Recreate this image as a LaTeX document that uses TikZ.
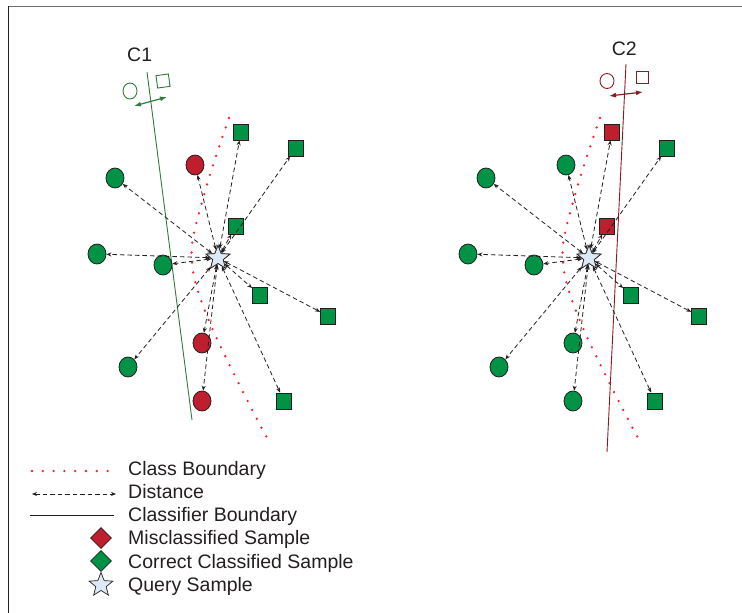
\documentclass[tikz,border=0pt]{standalone}
\usepackage{fontspec}
\setmainfont{Liberation Sans}
\usetikzlibrary{shapes.geometric,arrows.meta}

\definecolor{okgreen}{HTML}{009245}
\definecolor{badred}{HTML}{BE1E2D}
\definecolor{qblue}{HTML}{DCEAF7}
\definecolor{cOneline}{HTML}{2E7D3A}
\definecolor{cTwoline}{HTML}{8B1A1F}
\definecolor{inkgray}{HTML}{231F20}
\definecolor{dotred}{HTML}{FF1F2A}
\definecolor{framegray}{HTML}{6D6E70}

\tikzset{
  sample/.style={draw=inkgray, line width=0.8pt, inner sep=0pt},
  circ/.style={sample, ellipse, minimum width=18pt, minimum height=20pt},
  sq/.style={sample, rectangle, minimum width=15pt, minimum height=16pt},
  good/.style={fill=okgreen},
  bad/.style={fill=badred},
  query/.style={draw=inkgray, fill=qblue, star, star points=5,
    star point ratio=2.3, minimum size=25pt, inner sep=0pt, line width=0.7pt},
  dist/.style={inkgray, line width=0.8pt, dash pattern=on 4.5pt off 3pt,
    {Stealth[length=5pt,width=4pt]}-{Stealth[length=5pt,width=4pt]}},
  classbound/.style={dotred, line width=2.6pt, line cap=round,
    dash pattern=on 0pt off 10pt},
  clfline/.style={line width=0.9pt},
  sidearrow/.style={line width=1.2pt,
    {Latex[length=7pt,width=5pt]}-{Latex[length=7pt,width=5pt]}},
  txt/.style={text=inkgray, anchor=base west, inner sep=0pt,
    font=\fontsize{19.5}{21}\selectfont},
  legdiamond/.style={sample, diamond, aspect=1, minimum width=21pt, minimum height=21pt},
}

\begin{document}
\begin{tikzpicture}[x=1pt,y=-1pt]
\useasboundingbox (0,0) rectangle (742,613);

% frame
\draw[framegray, line width=1.5pt] (8,6.5) -- (742,6.5);
\draw[inkgray, line width=1pt] (8,6) -- (8,613);

% ---------------- classifier C1 ----------------
\node[txt] (c1lab) at (127,61.7) {C1};
\coordinate (c1top) at (147,72);
\coordinate (c1bot) at (192,420);
\draw[cOneline, clfline] (c1top) -- (c1bot);
\node[draw=cOneline, ellipse, line width=0.9pt, minimum width=14pt, minimum height=16pt, inner sep=0pt] (c1o) at (130,91) {};
\node[draw=cOneline, rectangle, line width=0.9pt, minimum size=12.5pt, inner sep=0pt, rotate=8] (c1s) at (163,81) {};
\coordinate (c1al) at (134,106);
\coordinate (c1ar) at (167,97);
\draw[cOneline, sidearrow] (c1al) -- (c1ar);

\draw[classbound] plot[smooth, tension=0.6] coordinates
  {(229,118) (217,153) (204,195) (193,238) (192,262) (197,288) (212,328) (236,378) (260,425) (269,441)};

% samples around the query
\node[circ, good] (a1) at (115,178) {};
\node[circ, good] (a2) at (97,254) {};
\node[circ, good] (a3) at (163,265) {};
\node[circ, good] (a4) at (128,367) {};
\node[circ, bad]  (a5) at (195,165) {};
\node[circ, bad]  (a6) at (202,343) {};
\node[circ, bad]  (a7) at (202,401) {};
\node[sq, good] (a8)  at (241,132) {};
\node[sq, good] (a9)  at (296,148) {};
\node[sq, good] (a10) at (236,226) {};
\node[sq, good] (a11) at (260,295) {};
\node[sq, good] (a12) at (328,316) {};
\node[sq, good] (a13) at (284,401) {};
\node[query] (qa) at (218,258) {};
\foreach \n in {a1,a2,a3,a4,a5,a6,a7,a8,a9,a10,a11,a12,a13}
  \draw[dist] (qa) -- (\n);
\node[query] at (qa) {};

% ---------------- classifier C2 ----------------
\node[txt] (c2lab) at (611.7,55) {C2};
\coordinate (c2top) at (626,64);
\coordinate (c2bot) at (607,452);
\draw[cTwoline, clfline] (c2top) -- (c2bot);
\node[draw=cTwoline, ellipse, line width=0.9pt, minimum width=14pt, minimum height=15pt, inner sep=0pt] (c2o) at (607,81) {};
\node[draw=cTwoline, rectangle, line width=0.9pt, minimum size=12pt, inner sep=0pt] (c2s) at (642,77) {};
\coordinate (c2al) at (609,96);
\coordinate (c2ar) at (643,92);
\draw[cTwoline, sidearrow] (c2al) -- (c2ar);

\draw[classbound] plot[smooth, tension=0.6] coordinates
  {(600,118) (588,153) (575,195) (564,238) (563,262) (568,288) (583,328) (607,378) (631,425) (640,441)};

\node[circ, good] (b1) at (486,178) {};
\node[circ, good] (b2) at (468,254) {};
\node[circ, good] (b3) at (534,265) {};
\node[circ, good] (b4) at (499,367) {};
\node[circ, good] (b5) at (566,165) {};
\node[circ, good] (b6) at (573,343) {};
\node[circ, good] (b7) at (573,401) {};
\node[sq, bad]  (b8)  at (612,132) {};
\node[sq, good] (b9)  at (667,148) {};
\node[sq, bad]  (b10) at (607,226) {};
\node[sq, good] (b11) at (631,295) {};
\node[sq, good] (b12) at (699,316) {};
\node[sq, good] (b13) at (655,401) {};
\node[query] (qb) at (589,258) {};
\foreach \n in {b1,b2,b3,b4,b5,b6,b7,b8,b9,b10,b11,b12,b13}
  \draw[dist] (qb) -- (\n);
\node[query] at (qb) {};

% ---------------- legend ----------------
\coordinate (l1a) at (32,471);  \coordinate (l1b) at (116,471);
\coordinate (l2a) at (32,494);  \coordinate (l2b) at (116,494);
\coordinate (l3a) at (30,515);  \coordinate (l3b) at (114,515);
\draw[classbound, dash pattern=on 0pt off 10.8pt] (l1a) -- (l1b);
\draw[dist] (l2a) -- (l2b);
\draw[inkgray, line width=0.8pt] (l3a) -- (l3b);
\node[legdiamond, bad]  (l4) at (101,538) {};
\node[legdiamond, good] (l5) at (101,561) {};
\node[query] (l6) at (101,585) {};

\node[txt] (t1) at (128,475)   {Class Boundary};
\node[txt] (t2) at (128,498.3) {Distance};
\node[txt] (t3) at (128,521.5) {Classifier Boundary};
\node[txt] (t4) at (128,544.5) {Misclassified Sample};
\node[txt] (t5) at (128,568)   {Correct Classified Sample};
\node[txt] (t6) at (128,591.5) {Query Sample};
\end{tikzpicture}
\end{document}
